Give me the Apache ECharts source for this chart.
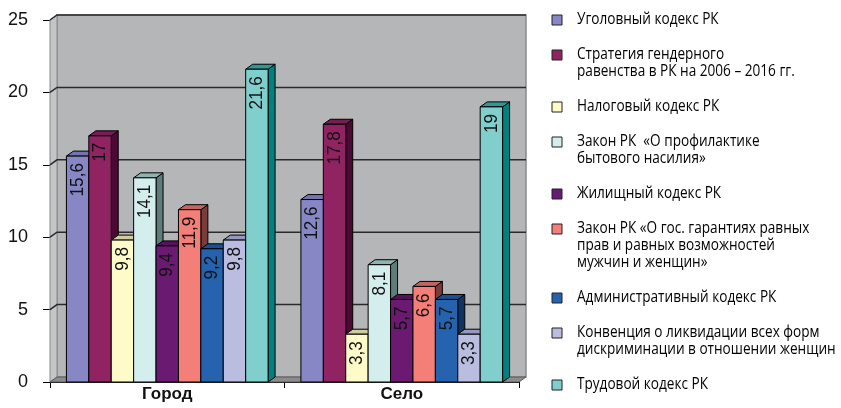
<!DOCTYPE html>
<html>
<head>
<meta charset="utf-8">
<script src="https://cdn.jsdelivr.net/npm/echarts@6/dist/echarts.min.js"></script>
<style>
  html, body { margin: 0; padding: 0; background: #ffffff; }
  #chart { width: 841px; height: 408px; }
</style>
</head>
<body>
<div id="chart"></div>
<script>
// Categories and series
const categories = ['Город', 'Село'];
const seriesNames = [
  'Уголовный кодекс РК',
  'Стратегия гендерного\nравенства в РК на 2006 – 2016 гг.',
  'Налоговый кодекс РК',
  'Закон РК  «О профилактике\nбытового насилия»',
  'Жилищный кодекс РК',
  'Закон РК «О гос. гарантиях равных\nправ и равных возможностей\nмужчин и женщин»',
  'Административный кодекс РК',
  'Конвенция о ликвидации всех форм\nдискриминации в отношении женщин',
  'Трудовой кодекс РК'
];
const cityValues    = [15.6, 17, 9.8, 14.1, 9.4, 11.9, 9.2, 9.8, 21.6];
const villageValues = [12.6, 17.8, 3.3, 8.1, 5.7, 6.6, 5.7, 3.3, 19];
const yTicks = [0, 5, 10, 15, 20, 25];

// Face colours: front, top, right side
const faceColors = ['#8787C6', '#902462', '#FFFBC8', '#D4EDED', '#6A1A70', '#F47E78', '#2563AF', '#BABCE0', '#80CFCC'];
const topColors  = ['#7474B0', '#781C52', '#CFCCA0', '#8FB3B0', '#55125C', '#C46460', '#1C4F90', '#9698C0', '#2F9894'];
const sideColors = ['#4C4C7A', '#4A0A33', '#8A8866', '#5E7C7A', '#3A0A40', '#7A3C3A', '#103462', '#62648A', '#00807E'];

const DX = 7, DY = -5;          // depth offset of the 3D look
const GROUP = 0.86;             // share of a category band taken by its bars
const N = seriesNames.length;
const NUM_FONT = '"Liberation Sans", Arial, sans-serif';
const TEXT_FONT = '"Open Sans", "Noto Sans", sans-serif';

function fmt(v) { return String(v).replace('.', ','); }

function barRenderer(i) {
  return function (params, api) {
    const cat = api.value(0), v = api.value(1);
    const base = api.coord([cat, 0]);
    const top = api.coord([cat, v]);
    const band = api.size([1, 0])[0];
    const bw = band * GROUP / N;
    const x0 = base[0] - band * GROUP / 2 + i * bw;
    const x1 = x0 + bw;
    const y0 = base[1], y1 = top[1];
    const edge = { stroke: '#000', lineWidth: 1 };
    return {
      type: 'group',
      children: [
        { type: 'polygon',
          shape: { points: [[x1, y0], [x1, y1], [x1 + DX, y1 + DY], [x1 + DX, y0 + DY]] },
          style: Object.assign({ fill: sideColors[i] }, edge) },
        { type: 'polygon',
          shape: { points: [[x0, y1], [x1, y1], [x1 + DX, y1 + DY], [x0 + DX, y1 + DY]] },
          style: Object.assign({ fill: topColors[i] }, edge) },
        { type: 'rect',
          shape: { x: x0, y: y1, width: bw, height: y0 - y1 },
          style: Object.assign({ fill: faceColors[i] }, edge) },
        { type: 'text',
          x: (x0 + x1) / 2, y: y1 + 7, rotation: Math.PI / 2, scaleX: 0.9,
          style: { text: fmt(v), align: 'right', verticalAlign: 'middle',
                   font: '19px ' + NUM_FONT, fill: '#111' } }
      ]
    };
  };
}

function wallRenderer(params, api) {
  const band = api.size([1, 0])[0];
  const c0 = api.coord([0, 0]);
  const left = c0[0] - band / 2;
  const right = left + band * categories.length;
  const yb = c0[1];
  const yt = api.coord([0, yTicks[yTicks.length - 1]])[1];
  const children = [
    { type: 'rect',
      shape: { x: left + DX, y: yt + DY, width: right - left, height: yb - yt },
      style: { fill: '#B4B6B7', stroke: '#8A8A8A', lineWidth: 1.5 } },
    { type: 'polygon',
      shape: { points: [[left, yb], [left, yt], [left + DX, yt + DY], [left + DX, yb + DY]] },
      style: { fill: '#C3C5C6', stroke: '#8A8A8A', lineWidth: 1 } },
    { type: 'polygon',
      shape: { points: [[left, yb], [right, yb], [right + DX, yb + DY], [left + DX, yb + DY]] },
      style: { fill: '#8C8C8C', stroke: '#5A5A5A', lineWidth: 1 } }
  ];
  yTicks.forEach(function (t) {
    if (t === 0) return;
    const y = api.coord([0, t])[1];
    children.push({ type: 'polyline',
      shape: { points: [[left, y], [left + DX, y + DY], [right + DX, y + DY]] },
      style: { stroke: '#2A2A2A', lineWidth: 1.5, fill: null } });
  });
  return { type: 'group', children: children };
}

// Legend built as graphic items so the marker sits on the first text line
const legendItems = [];
let ly = 20;
seriesNames.forEach(function (name, i) {
  const lines = name.split('\n').length;
  legendItems.push({ type: 'rect', shape: { x: 552, y: ly - 5, width: 10, height: 10 },
    style: { fill: faceColors[i], stroke: '#222', lineWidth: 1 } });
  legendItems.push({ type: 'text', x: 577, y: ly - 9, scaleX: 0.8,
    style: { text: name, font: '17px ' + TEXT_FONT, lineHeight: 17, fill: '#000', verticalAlign: 'top' } });
  ly += lines * 17 + 18;
});

const series = [{
  type: 'custom', name: 'walls', coordinateSystem: 'cartesian2d',
  data: [[0, 0]], renderItem: wallRenderer, silent: true, z: 1
}];
seriesNames.forEach(function (name, i) {
  series.push({
    type: 'custom', name: name, coordinateSystem: 'cartesian2d',
    data: categories.map(function (c, j) { return [j, j === 0 ? cityValues[i] : villageValues[i]]; }),
    encode: { x: 0, y: 1 },
    renderItem: barRenderer(i), z: 2 + i
  });
});

const chart = echarts.init(document.getElementById('chart'), null, { renderer: 'canvas' });
chart.setOption({
  animation: false,
  backgroundColor: '#ffffff',
  grid: { left: 50, right: 322, top: 20, bottom: 26, containLabel: false },
  xAxis: {
    type: 'category', data: categories, boundaryGap: true,
    axisLine: { lineStyle: { color: '#000', width: 1 } },
    axisTick: { show: true, length: 6, lineStyle: { color: '#000' } },
    axisLabel: { margin: 4, fontFamily: NUM_FONT, fontSize: 17, fontWeight: 'bold', color: '#111' },
    splitLine: { show: false }
  },
  yAxis: {
    type: 'value', min: 0, max: 25, interval: 5,
    axisLine: { show: true, lineStyle: { color: '#000', width: 1 } },
    axisTick: { show: true, length: 7, lineStyle: { color: '#000' } },
    axisLabel: { margin: 22, fontFamily: NUM_FONT, fontSize: 18, color: '#111' },
    splitLine: { show: false }
  },
  graphic: { elements: legendItems },
  series: series
});
</script>
</body>
</html>
